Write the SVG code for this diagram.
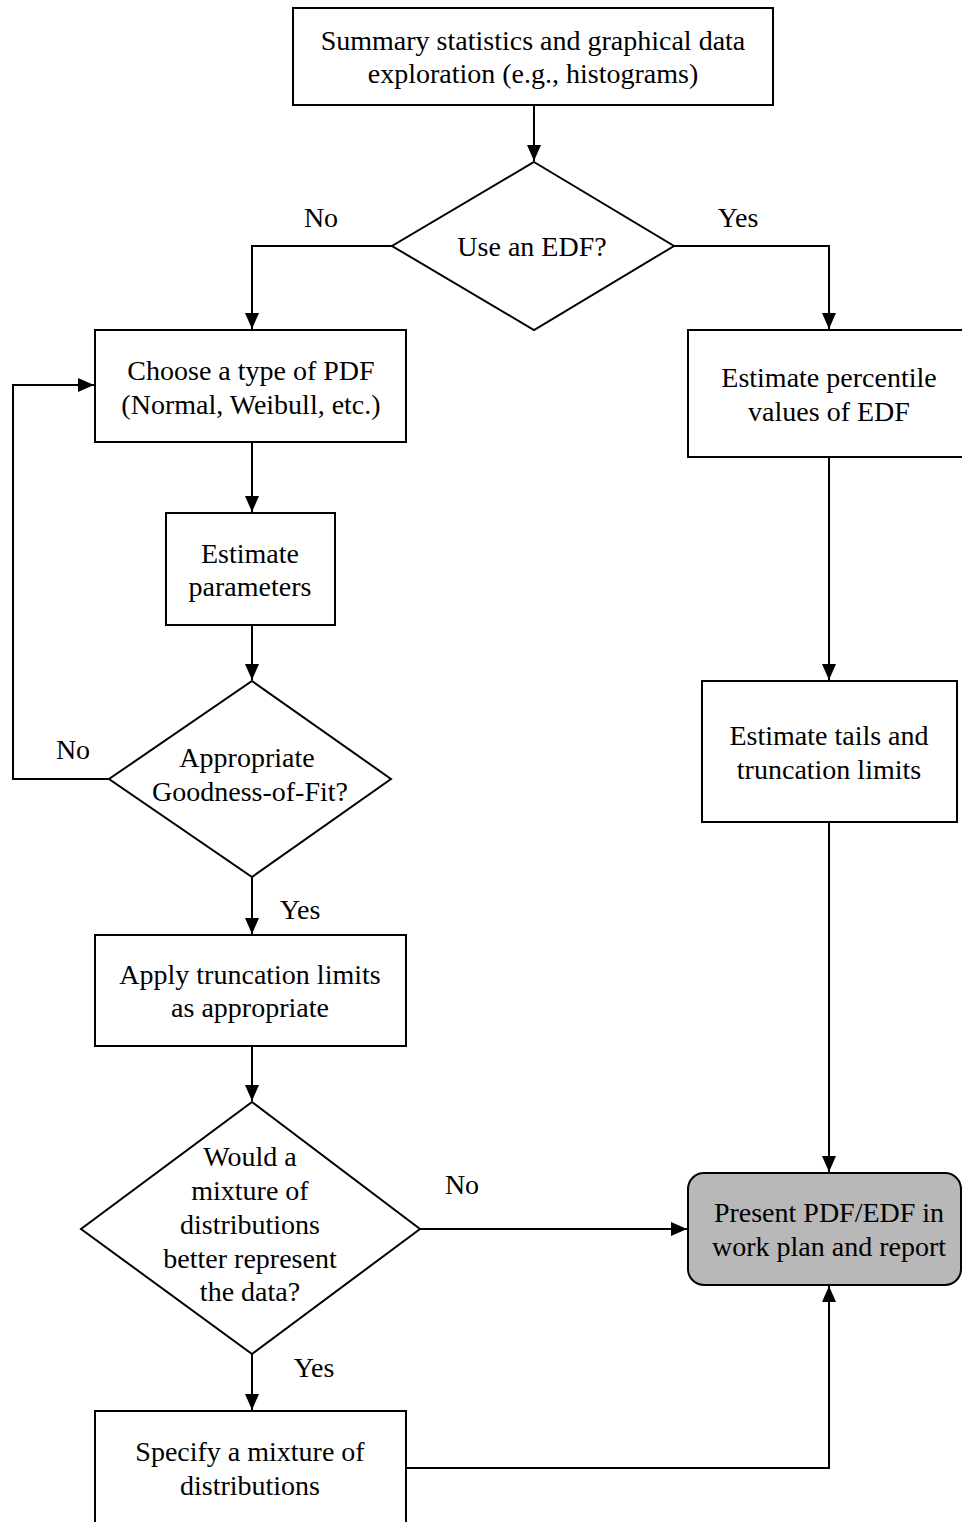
<svg xmlns="http://www.w3.org/2000/svg" width="962" height="1522" viewBox="0 0 962 1522">
<style>
.box{fill:#fff;stroke:#000;stroke-width:2}
.gray{fill:#b8b8b8;stroke:#000;stroke-width:2}
text{font-family:'Liberation Serif','Times New Roman',serif;font-size:28px;fill:#000;text-anchor:middle}
.c{fill:none;stroke:#000;stroke-width:2}
</style>
<defs>
<marker id="ah" viewBox="0 0 16 14" refX="16" refY="7" markerWidth="16" markerHeight="14" markerUnits="userSpaceOnUse" orient="auto">
<path d="M0,0 L16,7 L0,14 Z" fill="#000"/>
</marker>
</defs>
<rect width="962" height="1522" fill="#fff"/>
<g id="connectors">
<path class="c" d="M534,105 V161" marker-end="url(#ah)"/>
<path class="c" d="M392,246 H252 V329" marker-end="url(#ah)"/>
<path class="c" d="M674,246 H829 V329" marker-end="url(#ah)"/>
<path class="c" d="M252,442 V512" marker-end="url(#ah)"/>
<path class="c" d="M252,625 V680" marker-end="url(#ah)"/>
<path class="c" d="M109,779 H13 V385 H94" marker-end="url(#ah)"/>
<path class="c" d="M252,877 V934" marker-end="url(#ah)"/>
<path class="c" d="M252,1046 V1101" marker-end="url(#ah)"/>
<path class="c" d="M420,1229 H687" marker-end="url(#ah)"/>
<path class="c" d="M252,1354 V1410" marker-end="url(#ah)"/>
<path class="c" d="M406,1468 H829 V1286" marker-end="url(#ah)"/>
<path class="c" d="M829,457 V680" marker-end="url(#ah)"/>
<path class="c" d="M829,822 V1172" marker-end="url(#ah)"/>
<text x="321" y="227">No</text>
<text x="738" y="227">Yes</text>
<text x="73" y="759">No</text>
<text x="300" y="919">Yes</text>
<text x="462" y="1194">No</text>
<text x="314" y="1377">Yes</text>
</g>
<g id="n1">
<rect class="box" x="293" y="8" width="480" height="97"/>
<text x="533" y="50">Summary statistics and graphical data</text>
<text x="533" y="83">exploration (e.g., histograms)</text>
</g>
<g id="n2">
<polygon class="box" points="534,162 674,246 534,330 392,246"/>
<text x="532" y="256">Use an EDF?</text>
</g>
<g id="n3">
<rect class="box" x="95" y="330" width="311" height="112"/>
<text x="251" y="380">Choose a type of PDF</text>
<text x="251" y="414">(Normal, Weibull, etc.)</text>
</g>
<g id="n4">
<rect class="box" x="688" y="330" width="282" height="127"/>
<text x="829" y="387">Estimate percentile</text>
<text x="829" y="421">values of EDF</text>
</g>
<g id="n5">
<rect class="box" x="166" y="513" width="169" height="112"/>
<text x="250" y="563">Estimate</text>
<text x="250" y="596">parameters</text>
</g>
<g id="n6">
<polygon class="box" points="252,681 391,779 252,877 109,779"/>
<text x="247" y="767">Appropriate</text>
<text x="250" y="801">Goodness-of-Fit?</text>
</g>
<g id="n7">
<rect class="box" x="95" y="935" width="311" height="111"/>
<text x="250" y="984">Apply truncation limits</text>
<text x="250" y="1017">as appropriate</text>
</g>
<g id="n8">
<polygon class="box" points="252,1102 420,1229 252,1354 81,1229"/>
<text x="250" y="1166">Would a</text>
<text x="250" y="1200">mixture of</text>
<text x="250" y="1234">distributions</text>
<text x="250" y="1268">better represent</text>
<text x="250" y="1301">the data?</text>
</g>
<g id="n9">
<rect class="box" x="95" y="1411" width="311" height="130"/>
<text x="250" y="1461">Specify a mixture of</text>
<text x="250" y="1495">distributions</text>
</g>
<g id="n10">
<rect class="box" x="702" y="681" width="255" height="141"/>
<text x="829" y="745">Estimate tails and</text>
<text x="829" y="779">truncation limits</text>
</g>
<g id="n11">
<rect class="gray" x="688" y="1173" width="273" height="112" rx="16" ry="16"/>
<text x="829" y="1222">Present PDF/EDF in</text>
<text x="829" y="1256">work plan and report</text>
</g>
</svg>
